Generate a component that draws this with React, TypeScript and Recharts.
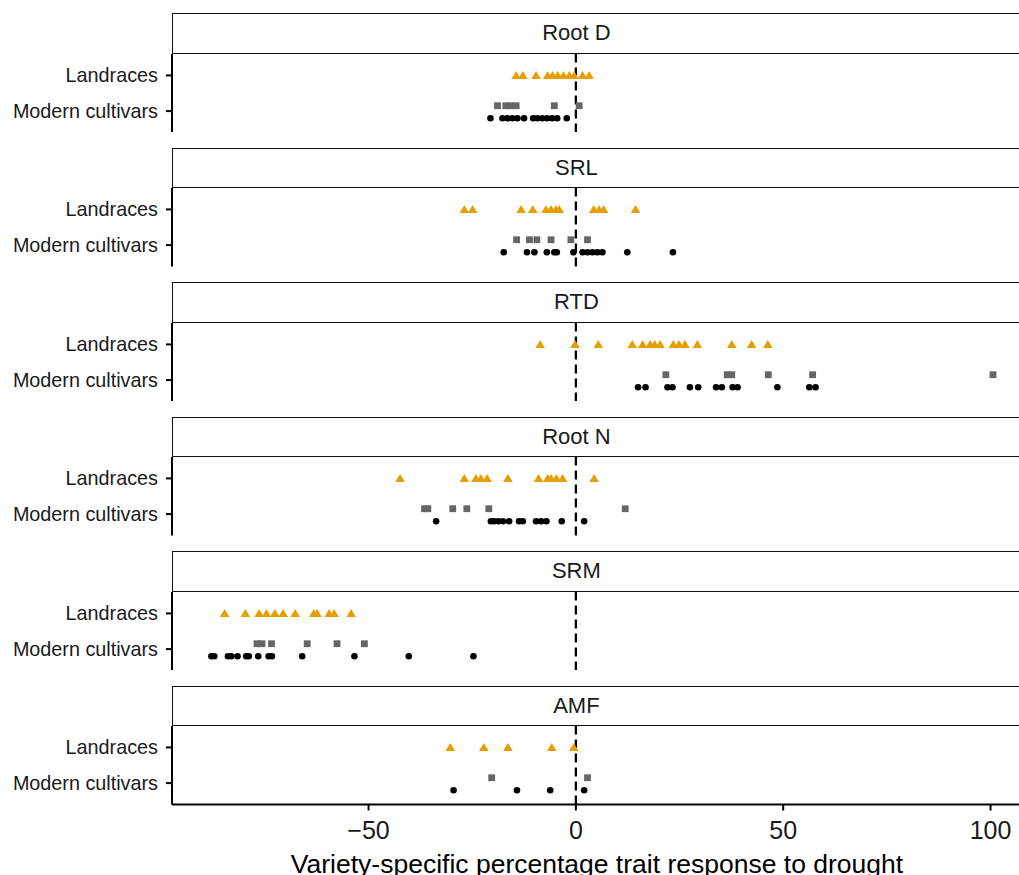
import React from "react";
import { ScatterChart, Scatter, XAxis, YAxis, ReferenceLine, Label } from "recharts";

// facet labels, group labels and x ticks
const traits = ["Root D", "SRL", "RTD", "Root N", "SRM", "AMF"];
const groupLabels = ["Modern cultivars", "Landraces"];
const xTicks = [-50, 0, 50, 100];

// % response per variety, one list per trait (same order as traits)
const landraceValues = [
  [-14.4, -12.8, -9.6, -6.8, -5.6, -4.4, -3.0, -1.6, -0.4, 1.6, 3.2],
  [-26.9, -24.9, -13.2, -10.4, -7.2, -6.0, -4.8, -4.0, 4.3, 5.6, 6.7, 14.4],
  [-8.6, -0.2, 5.4, 13.6, 16.1, 17.9, 19.0, 20.3, 23.5, 24.9, 26.3, 29.3, 37.6, 42.4, 46.3],
  [-42.4, -26.9, -24.1, -22.9, -21.4, -16.4, -9.0, -6.8, -6.0, -4.7, -3.2, 4.4],
  [-84.7, -79.7, -76.4, -74.6, -72.6, -70.6, -67.7, -63.2, -62.4, -59.5, -58.3, -54.2],
  [-30.3, -22.2, -16.4, -5.8, -0.5],
];

// modern cultivars, grey squares
const modernGreyValues = [
  [-18.9, -16.9, -15.7, -14.4, -5.2, 0.8],
  [-14.3, -11.2, -9.4, -6.0, -1.2, 2.8],
  [21.7, 36.5, 37.6, 46.4, 57.1, 100.6],
  [-36.5, -35.7, -29.7, -26.3, -21.0, 11.9],
  [-76.9, -75.7, -73.4, -64.8, -57.6, -51.0],
  [-20.3, 2.8],
];

// modern cultivars, black dots
const modernBlackValues = [
  [-20.6, -17.7, -16.5, -15.3, -14.1, -12.5, -10.3, -9.3, -8.1, -6.9, -5.7, -4.5, -2.2],
  [-17.4, -11.8, -10.0, -7.0, -5.2, -4.6, -0.6, 1.6, 2.8, 4.0, 5.2, 6.4, 12.4, 23.4],
  [15.0, 16.8, 22.1, 23.3, 27.5, 29.5, 33.8, 35.2, 37.8, 39.0, 48.6, 56.3, 57.8],
  [-33.7, -20.5, -19.7, -18.7, -17.6, -16.1, -13.7, -12.8, -9.6, -8.4, -7.1, -3.4, 2.0],
  [-87.9, -87.2, -83.9, -83.1, -81.6, -79.5, -78.9, -76.6, -74.1, -73.3, -66.0, -53.4, -40.3, -24.7],
  [-29.5, -14.2, -6.2, 2.0],
];

const FONT = '"Liberation Sans", Arial, Helvetica, sans-serif';
const CHART_W = 1032;
const PLOT_LEFT = 172;
const X_DOMAIN: [number, number] = [-97.4, 110];
const STRIP_TOP = 13;
const STEP = 134.5;
const STRIP_H = 40.7;
const PLOT_H = 78.5;
const AXIS_H = 80;

const zeroX =
  PLOT_LEFT + ((0 - X_DOMAIN[0]) / (X_DOMAIN[1] - X_DOMAIN[0])) * (CHART_W - PLOT_LEFT);

// dodge offsets inside the "Modern cultivars" row
const LAND_Y = 2;
const GREY_Y = 1.15;
const BLACK_Y = 0.8;

const fmtX = (v: number) => (v < 0 ? `\u2212${-v}` : `${v}`);

const Triangle = (p: any) => (
  <path
    d={`M${p.cx},${p.cy - 4.5} L${p.cx + 4.8},${p.cy + 3.5} L${p.cx - 4.8},${p.cy + 3.5} Z`}
    fill="#E69F00"
  />
);
const Square = (p: any) => <rect x={p.cx - 3.4} y={p.cy - 3.4} width={6.8} height={6.8} fill="#666666" />;
const Dot = (p: any) => <circle cx={p.cx} cy={p.cy} r={3.3} fill="#000" />;

function Panel({ index }: { index: number }) {
  const last = index === traits.length - 1;
  const top = STRIP_TOP + index * STEP;
  const land = landraceValues[index].map((x) => ({ x, y: LAND_Y }));
  const grey = modernGreyValues[index].map((x) => ({ x, y: GREY_Y }));
  const black = modernBlackValues[index].map((x) => ({ x, y: BLACK_Y }));

  return (
    <>
      <div
        style={{
          position: "absolute",
          left: PLOT_LEFT - 0.5,
          top,
          width: CHART_W - PLOT_LEFT + 20,
          height: STRIP_H,
          border: "1.6px solid #111",
          boxSizing: "border-box",
          background: "#fff",
        }}
      >
        <span
          style={{
            position: "absolute",
            left: zeroX - PLOT_LEFT,
            top: "50%",
            transform: "translate(-50%, -50%)",
            fontSize: 22,
            fontFamily: FONT,
            color: "#1a1a1a",
            whiteSpace: "nowrap",
          }}
        >
          {traits[index]}
        </span>
      </div>
      <div style={{ position: "absolute", left: 0, top: top + STRIP_H }}>
        <ScatterChart
          width={CHART_W}
          height={PLOT_H + (last ? AXIS_H : 0)}
          margin={{ top: 0, right: 0, bottom: 0, left: 0 }}
          style={{ fontFamily: FONT }}
        >
          <XAxis
            type="number"
            dataKey="x"
            domain={X_DOMAIN}
            ticks={xTicks}
            allowDataOverflow
            hide={!last}
            height={AXIS_H}
            tickFormatter={fmtX}
            tickSize={6}
            tickMargin={11}
            axisLine={{ stroke: "#000", strokeWidth: 2 }}
            tickLine={{ stroke: "#000", strokeWidth: 2 }}
            tick={{ fontSize: 25, fill: "#1a1a1a", fontFamily: FONT }}
          >
            {last && (
              <Label
                value="Variety-specific percentage trait response to drought"
                position="insideBottom"
                offset={12}
                dx={-5}
                style={{ fontSize: 26.5, fill: "#000", fontFamily: FONT }}
              />
            )}
          </XAxis>
          <YAxis
            type="number"
            dataKey="y"
            domain={[0.4, 2.6]}
            ticks={[1, 2]}
            allowDataOverflow
            width={PLOT_LEFT}
            tickFormatter={(v: number) => groupLabels[v - 1]}
            tickSize={6}
            tickMargin={8}
            axisLine={{ stroke: "#000", strokeWidth: 2 }}
            tickLine={{ stroke: "#000", strokeWidth: 2 }}
            tick={{ fontSize: 19.8, fill: "#1a1a1a", fontFamily: FONT }}
          />
          <ReferenceLine x={0} stroke="#000" strokeWidth={2.3} strokeDasharray="9 5" />
          <Scatter data={land} shape={Triangle} isAnimationActive={false} />
          <Scatter data={grey} shape={Square} isAnimationActive={false} />
          <Scatter data={black} shape={Dot} isAnimationActive={false} />
        </ScatterChart>
      </div>
    </>
  );
}

export default function App() {
  return (
    <div
      style={{
        position: "absolute",
        left: 0,
        top: 0,
        width: 1019,
        height: 875,
        overflow: "hidden",
        background: "#fff",
      }}
    >
      {traits.map((t, i) => (
        <Panel key={t} index={i} />
      ))}
    </div>
  );
}
